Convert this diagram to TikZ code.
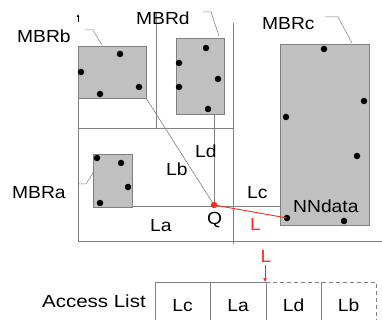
\documentclass[tikz,border=0pt]{standalone}
\usepackage{fontspec}
\setmainfont{Liberation Sans}[FakeStretch=1.1]
\newfontfamily\accfont{Liberation Sans}[FakeStretch=1.17]
\usetikzlibrary{arrows.meta}
\definecolor{ln}{HTML}{808080}
\definecolor{mbr}{HTML}{C0C0C0}
\definecolor{rd}{HTML}{FF2A1A}
\tikzset{
  part/.style={draw=ln, line width=0.8pt},
  mbrbox/.style={draw=ln, fill=mbr, line width=0.8pt},
  leader/.style={draw=ln, line width=0.5pt},
  lbl/.style={inner sep=0pt, anchor=base west, font=\fontsize{17.5}{20}\selectfont},
  pt/.style={circle, fill=black, inner sep=0pt, minimum size=6.5pt},
  cell/.style={draw=ln, line width=0.8pt},
}
\begin{document}
\begin{tikzpicture}[x=1pt,y=-1pt]
\useasboundingbox (0,0) rectangle (382,320);
% partition lines
\draw[part] (78,46) -- (78,241) -- (382,241);
\draw[part] (78,128) -- (233,128);
\draw[part] (233,23) -- (233,244);
\draw[part] (156,12) -- (156,128);
% MBR rectangles
\draw[mbrbox] (78,46) rectangle (146,98);
\draw[mbrbox] (176,38) rectangle (224,114);
\draw[mbrbox] (280,44) rectangle (369,225);
\draw[mbrbox] (93,154) rectangle (132,207);
% coordinates
\coordinate (Q) at (214,205);
\coordinate (bcorner) at (146,98);
\coordinate (dbottom) at (214,114);
\coordinate (acorner) at (132,206);
\coordinate (cleft) at (280,206);
% distance lines
\draw[leader, line width=0.6pt] (bcorner) -- (Q);
\draw[leader, line width=0.7pt] (dbottom) -- (Q);
\draw[leader, line width=0.7pt] (acorner) -- (cleft);
% data points
\foreach \p in {(120,54),(81,72),(139,87),(100,94),
                (179,63),(179,87),(206,48),(218,79),(208,109),
                (324,49),(364,101),(286,117),(357,156),(344,221),
                (97,158),(121,163),(128,187),(100,203)}
  \node[pt] at \p {};
\node[pt] (NN) at (287,218) {};
% nearest line
\draw[rd, line width=0.9pt] (Q) -- (NN.center);
\node[circle, fill=rd, inner sep=0pt, minimum size=6.5pt] (Qdot) at (Q) {};
% leaders
\draw[leader] (85,30) -- (93,30) -- (102,45);
\draw[leader] (203,12) -- (211,12) -- (219,36);
\draw[leader] (325,17) -- (338,17) -- (352,43);
\draw[leader] (78,184) -- (86,184) -- (93,173);
% tiny axis arrow
\draw[black, line width=0.6pt, -{Latex[length=3pt,width=3pt]}] (78,22) -- (78,14);
% labels
\node[lbl] (lMBRb) at (17,43) {MBRb};
\node[lbl] (lMBRd) at (136,25) {MBRd};
\node[lbl] (lMBRc) at (262,30) {MBRc};
\node[lbl] (lMBRa) at (12,198) {MBRa};
\node[lbl] (lLb) at (166,176) {Lb};
\node[lbl] (lLd) at (195,158) {Ld};
\node[lbl] (lLa) at (150,231) {La};
\node[lbl] (lLc) at (247,198) {Lc};
\node[lbl] (lQ) at (207,224) {Q};
\node[lbl, text=rd] (lL) at (250,230) {L};
\node[lbl] (lNN) at (293,212) {NNdata};
% access list
\node[lbl, font=\accfont\fontsize{17.5}{20}\selectfont] (acc) at (42,307) {Access List};
\draw[cell] (266,282) -- (155,282) -- (155,325);
\draw[cell] (210,282) -- (210,325);
\draw[cell] (266,282) -- (266,325);
\draw[cell] (321,282) -- (321,325);
\draw[cell, dashed, dash pattern=on 4pt off 3pt] (266,282) -- (376,282) -- (376,325);
\node[lbl, anchor=base] (c1) at (182.5,311) {Lc};
\node[lbl, anchor=base] (c2) at (238,311) {La};
\node[lbl, anchor=base] (c3) at (293.5,311) {Ld};
\node[lbl, anchor=base] (c4) at (348.5,311) {Lb};
\node[lbl, anchor=base, text=rd] (lL2) at (266,262) {L};
\coordinate (arrtop) at (265,265);
\coordinate (arrbot) at (265,282);
\draw[rd, line width=0.7pt, -{Latex[length=4pt,width=4pt]}] (arrtop) -- (arrbot);
\end{tikzpicture}
\end{document}
